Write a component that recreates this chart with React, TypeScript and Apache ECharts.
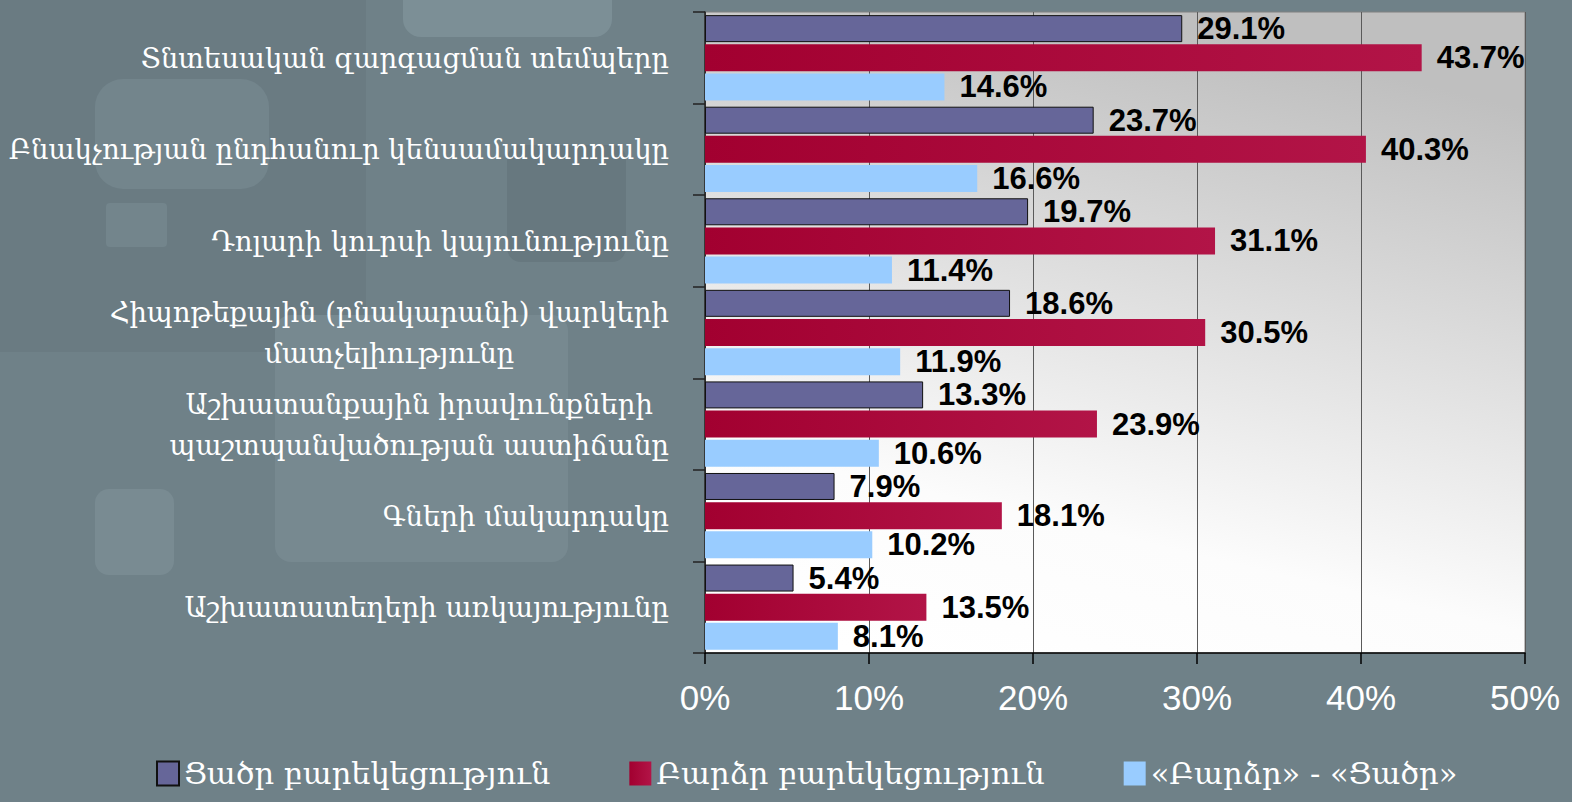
import React, { useEffect, useRef } from 'react';
import * as echarts from 'echarts';

const categories = [
  'Տնտեսական զարգացման տեմպերը',
  'Բնակչության ընդհանուր կենսամակարդակը',
  'Դոլարի կուրսի կայունությունը',
  'Հիպոթեքային (բնակարանի) վարկերի\nմատչելիությունը',
  'Աշխատանքային իրավունքների\nպաշտպանվածության աստիճանը',
  'Գների մակարդակը',
  'Աշխատատեղերի առկայությունը',
];
const seriesNames = ['Ցածր բարեկեցություն', 'Բարձր բարեկեցություն', '«Բարձր» - «Ցածր»'];
const lowWelfare = [29.1, 23.7, 19.7, 18.6, 13.3, 7.9, 5.4];
const highWelfare = [43.7, 40.3, 31.1, 30.5, 23.9, 18.1, 13.5];
const difference = [14.6, 16.6, 11.4, 11.9, 10.6, 10.2, 8.1];
const axisMax = 50;
const axisInterval = 10;

const SERIF = '"DejaVu Serif", serif';
const SANS = '"Liberation Sans", Arial, sans-serif';

export default function App() {
  const ref = useRef<HTMLDivElement>(null);
  useEffect(() => {
    if (!ref.current) return;
    const chart = echarts.init(ref.current, undefined, { renderer: 'svg' });
    const valueLabel = {
      show: true,
      position: 'right',
      distance: 15,
      fontFamily: SANS,
      fontWeight: 'bold',
      fontSize: 31,
      color: '#000',
      formatter: (p: any) => Number(p.value).toFixed(1) + '%',
    };
    const deco = (x: number, y: number, w: number, h: number, r: number, fill: string) => ({
      type: 'rect',
      z: -100,
      silent: true,
      shape: { x, y, width: w, height: h, r },
      style: { fill },
    });
    chart.setOption({
      animation: false,
      backgroundColor: '#6F8188',
      graphic: [
        deco(0, 0, 366, 352, 0, '#6A7B82'),
        deco(403, -30, 209, 67, 18, '#7C8F96'),
        deco(95, 79, 174, 110, 28, '#73858C'),
        deco(106, 203, 61, 44, 4, '#73858C'),
        deco(507, 145, 119, 117, 14, '#67787F'),
        deco(275, 315, 293, 247, 16, '#778990'),
        deco(95, 489, 79, 86, 14, '#798B92'),
      ],
      grid: {
        left: 705,
        right: 47,
        top: 12,
        bottom: 149,
        show: true,
        borderColor: '#808080',
        borderWidth: 1,
        backgroundColor: {
          type: 'linear',
          x: 0.2,
          y: 1,
          x2: 0.5,
          y2: 0,
          colorStops: [
            { offset: 0, color: '#FFFFFF' },
            { offset: 0.25, color: '#FCFCFC' },
            { offset: 1, color: '#BFBFBF' },
          ],
        },
      },
      legend: {
        left: 151,
        bottom: 8,
        itemWidth: 22,
        itemHeight: 24,
        itemGap: 79,
        icon: 'rect',
        textStyle: { fontFamily: SERIF, fontSize: 30.5, color: '#FFFFFF' },
        data: seriesNames,
      },
      xAxis: {
        type: 'value',
        min: 0,
        max: axisMax,
        interval: axisInterval,
        axisLine: { show: true, lineStyle: { color: '#000', width: 1.5 } },
        axisTick: { show: true, length: 11, lineStyle: { color: '#000', width: 1.5 } },
        axisLabel: {
          formatter: '{value}%',
          fontFamily: SANS,
          fontSize: 35,
          color: '#FFFFFF',
          margin: 27,
        },
        splitLine: { show: true, lineStyle: { color: '#5A5A5A', width: 1 } },
      },
      yAxis: {
        type: 'category',
        inverse: true,
        data: categories,
        axisLine: { show: true, lineStyle: { color: '#222', width: 1.5 } },
        axisTick: { show: true, length: 12, lineStyle: { color: '#222', width: 1.5 } },
        axisLabel: {
          margin: 36,
          color: '#FFFFFF',
          fontFamily: SERIF,
          fontSize: 27.5,
          formatter: (v: string) => v.split('\n').map((l) => `{c|${l}}`).join('\n'),
          rich: {
            c: { align: 'center', fontFamily: SERIF, fontSize: 27.5, color: '#FFFFFF', lineHeight: 41 },
          },
        },
      },
      series: [
        {
          name: seriesNames[0],
          type: 'bar',
          data: lowWelfare,
          barWidth: 27,
          barGap: '8%',
          itemStyle: { color: '#666699', borderColor: '#111', borderWidth: 1 },
          label: valueLabel,
        },
        {
          name: seriesNames[1],
          type: 'bar',
          data: highWelfare,
          barWidth: 27,
          barGap: '8%',
          itemStyle: {
            color: {
              type: 'linear',
              x: 0,
              y: 0,
              x2: 1,
              y2: 0,
              colorStops: [
                { offset: 0, color: '#A20030' },
                { offset: 1, color: '#B21447' },
              ],
            },
          },
          label: valueLabel,
        },
        {
          name: seriesNames[2],
          type: 'bar',
          data: difference,
          barWidth: 27,
          barGap: '8%',
          itemStyle: { color: '#99CCFF' },
          label: valueLabel,
        },
      ],
    });
    return () => chart.dispose();
  }, []);
  return <div ref={ref} style={{ position: 'fixed', left: 0, top: 0, width: 1572, height: 802 }} />;
}
